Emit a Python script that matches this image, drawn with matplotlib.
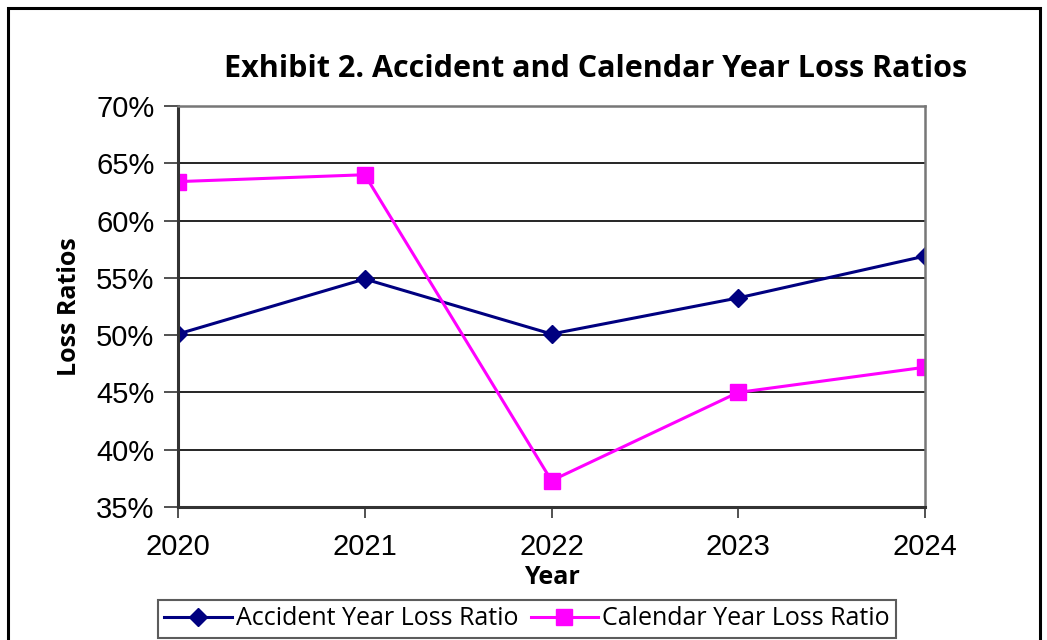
import numpy as np
import matplotlib
matplotlib.use('Agg')
import matplotlib.pyplot as plt
from matplotlib.patches import Rectangle
from matplotlib.ticker import FuncFormatter

#%% Data
years = [2020, 2021, 2022, 2023, 2024]
accident_year = [50.1, 54.9, 50.1, 53.25, 56.9]
calendar_year = [63.4, 64.0, 37.3, 45.0, 47.2]
y_ticks = [35, 40, 45, 50, 55, 60, 65, 70]

title = 'Exhibit 2. Accident and Calendar Year Loss Ratios'
label_font = ['Open Sans', 'DejaVu Sans']
tick_font = ['Liberation Sans', 'DejaVu Sans']

#%% Plot
fig = plt.figure(figsize=(10.47, 6.4), dpi=100)
ax = fig.add_axes([178 / 1047, 1 - 507 / 640, (925 - 178) / 1047, (507 - 106) / 640])

ax.plot(years, accident_year, color='#000080', lw=2.2, marker='D', ms=9,
        label='Accident Year Loss Ratio')
ax.plot(years, calendar_year, color='#FF00FF', lw=2.2, marker='s', ms=11,
        label='Calendar Year Loss Ratio')

ax.set_xlim(years[0], years[-1])
ax.set_ylim(35, 70)
ax.set_xticks(years)
ax.set_yticks(y_ticks)
ax.yaxis.set_major_formatter(FuncFormatter(lambda v, p: f'{v:.0f}%'))
ax.grid(axis='y', color='black', lw=1.2)
ax.set_axisbelow(True)

for lab in ax.get_xticklabels() + ax.get_yticklabels():
    lab.set_family(tick_font)
    lab.set_fontsize(21)
ax.tick_params(axis='x', length=8, width=1.2, pad=11, colors='#333333', labelcolor='black')
ax.tick_params(axis='y', length=10, width=1.2, pad=7, colors='#333333', labelcolor='black')

for side in ['left', 'bottom']:
    ax.spines[side].set_linewidth(2.2)
    ax.spines[side].set_color('#333333')
for side in ['top', 'right']:
    ax.spines[side].set_linewidth(1.8)
    ax.spines[side].set_color('#777777')

ax.set_xlabel('Year', family=label_font, fontsize=18, fontweight='bold', va='center')
ax.xaxis.set_label_coords(0.5, (507 - 578) / 401)
ax.set_ylabel('Loss Ratios', family=label_font, fontsize=18, fontweight='bold', va='center')
ax.yaxis.set_label_coords((70 - 178) / 747, 0.5)

fig.text(596 / 1047, 1 - 69 / 640, title, family=label_font, fontsize=22,
         fontweight='bold', ha='center', va='center')

leg = fig.legend(loc='upper center', bbox_to_anchor=(527 / 1047, 1 - 600 / 640),
                 ncol=2, prop={'family': label_font, 'size': 18}, frameon=True,
                 fancybox=False, edgecolor='#333333', handlelength=2.7,
                 columnspacing=0.5, handletextpad=0.15, borderpad=0.25,
                 borderaxespad=0)
leg.get_frame().set_linewidth(1.5)

fig.patches.append(Rectangle((8 / 1047, -0.1), (1040 - 8) / 1047, 1.1 - 8 / 640,
                             transform=fig.transFigure, fill=False,
                             edgecolor='black', lw=2.2))

fig.savefig('out.png', dpi=100)
